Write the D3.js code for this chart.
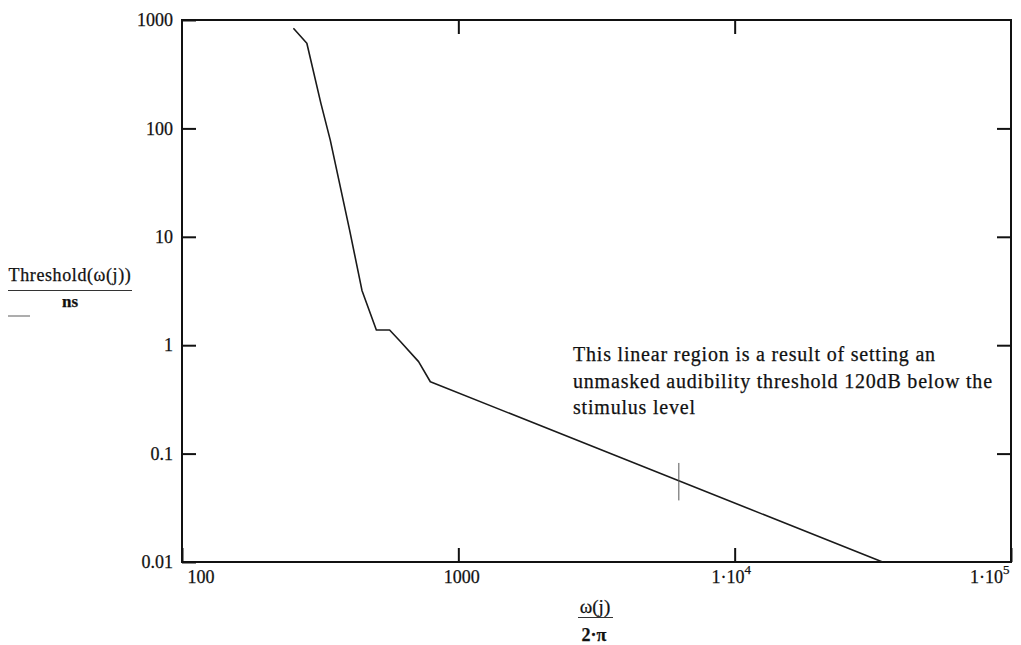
<!DOCTYPE html>
<html>
<head>
<meta charset="utf-8">
<script src="https://cdn.jsdelivr.net/npm/d3@7"></script>
<style>
  html, body { margin: 0; padding: 0; background: #fff; }
  svg { display: block; font-family: "Liberation Serif", "Times New Roman", serif; }
  svg text { stroke: #111; stroke-width: 0.25px; }
</style>
</head>
<body>
<svg id="chart" width="1021" height="645"></svg>
<script>
// ---- data ----
const freq   = [253, 283, 318, 344, 404, 448, 505, 564, 617, 718, 792, 34300];
const thresh = [838, 610, 171, 78, 11.6, 3.2, 1.38, 1.38, 1.08, 0.705, 0.46, 0.01];
const xTickValues = [100, 1000, 10000, 100000];
const xTickLabels = [["100", ""], ["1000", ""], ["1·10", "4"], ["1·10", "5"]];
const yTickValues = [0.01, 0.1, 1, 10, 100, 1000];
const yTickLabels = ["0.01", "0.1", "1", "10", "100", "1000"];
const markerX = [6280];
const markerY = [0.037, 0.082];
const noteLines = [
  "This linear region is a result of setting an",
  "unmasked audibility threshold 120dB below the",
  "stimulus level"
];

// ---- layout ----
const svg = d3.select("#chart");
const L = 182, R = 1011, T = 20, B = 562;
const x = d3.scaleLog().domain([100, 100000]).range([L, R]);
const y = d3.scaleLog().domain([0.01, 1000]).range([B, T]);
const tick = 14;

// frame
svg.append("rect").attr("x", L).attr("y", T).attr("width", R - L).attr("height", B - T)
  .attr("fill", "none").attr("stroke", "#111").attr("stroke-width", 2);

function styleAxis(g) {
  g.select(".domain").remove();
  g.selectAll(".tick line").attr("stroke", "#111").attr("stroke-width", 2);
}

// bottom axis (ticks pointing up)
const gB = svg.append("g").attr("transform", `translate(0,${B})`)
  .call(d3.axisBottom(x).tickValues(xTickValues).tickSizeInner(-tick).tickSizeOuter(0).tickFormat(() => ""))
  .call(styleAxis);
gB.selectAll(".tick text").remove();
const xOff = [{dx: 5, anchor: "start"}, {dx: 3, anchor: "middle"}, {dx: -4, anchor: "middle"}, {dx: -2, anchor: "end"}];
gB.selectAll(".tick").each(function(d, i) {
  const t = d3.select(this).append("text")
    .attr("x", xOff[i].dx).attr("y", 21)
    .attr("text-anchor", xOff[i].anchor)
    .attr("fill", "#111").attr("font-size", 18).attr("font-family", "Liberation Serif, serif");
  t.append("tspan").text(xTickLabels[i][0]);
  if (xTickLabels[i][1]) t.append("tspan").attr("dy", -9).attr("font-size", 13).text(xTickLabels[i][1]);
});

// top axis (ticks pointing down)
svg.append("g").attr("transform", `translate(0,${T})`)
  .call(d3.axisTop(x).tickValues([1000, 10000]).tickSizeInner(-tick).tickSizeOuter(0).tickFormat(() => ""))
  .call(styleAxis);

// left axis (ticks pointing right)
const gL = svg.append("g").attr("transform", `translate(${L},0)`)
  .call(d3.axisLeft(y).tickValues(yTickValues).tickSizeInner(-tick).tickSizeOuter(0)
    .tickFormat((d, i) => yTickLabels[i]))
  .call(styleAxis);
gL.selectAll(".tick text").attr("x", -9).attr("dy", "0.32em")
  .attr("fill", "#111").attr("font-size", 18).attr("font-family", "Liberation Serif, serif");

// right axis (ticks pointing left)
svg.append("g").attr("transform", `translate(${R},0)`)
  .call(d3.axisRight(y).tickValues(yTickValues.slice(1, -1)).tickSizeInner(-tick).tickSizeOuter(0).tickFormat(() => ""))
  .call(styleAxis);

// data line
const pts = freq.map((f, i) => [f, thresh[i]]);
svg.append("path").datum(pts)
  .attr("fill", "none").attr("stroke", "#1a1a1a").attr("stroke-width", 1.6)
  .attr("stroke-linejoin", "round")
  .attr("d", d3.line().x(d => x(d[0])).y(d => y(d[1])));

// cursor marker
svg.append("line")
  .attr("x1", x(markerX[0])).attr("x2", x(markerX[0]))
  .attr("y1", y(markerY[0])).attr("y2", y(markerY[1]))
  .attr("stroke", "#555").attr("stroke-width", 1);

// annotation
const note = svg.append("text").attr("x", 573).attr("y", 361).attr("fill", "#111")
  .attr("font-size", 20).attr("letter-spacing", 0.8);
noteLines.forEach((s, i) => note.append("tspan").attr("x", 573).attr("dy", i === 0 ? 0 : 26.5).text(s));

// y label (fraction)
svg.append("text").attr("x", 70).attr("y", 281).attr("text-anchor", "middle")
  .attr("fill", "#111").attr("font-size", 18).attr("letter-spacing", 0.6).text("Threshold(ω(j))");
svg.append("line").attr("x1", 8).attr("x2", 132).attr("y1", 290.5).attr("y2", 290.5)
  .attr("stroke", "#333").attr("stroke-width", 1.2);
svg.append("text").attr("x", 70).attr("y", 307).attr("text-anchor", "middle")
  .attr("fill", "#111").attr("font-size", 17).attr("font-weight", "bold").text("ns");
svg.append("line").attr("x1", 8).attr("x2", 30).attr("y1", 316).attr("y2", 316)
  .attr("stroke", "#777").attr("stroke-width", 1.2);

// x label (fraction)
svg.append("text").attr("x", 595).attr("y", 613).attr("text-anchor", "middle")
  .attr("fill", "#111").attr("font-size", 19).text("ω(j)");
svg.append("line").attr("x1", 578).attr("x2", 613).attr("y1", 617.5).attr("y2", 617.5)
  .attr("stroke", "#333").attr("stroke-width", 1.2);
svg.append("text").attr("x", 594).attr("y", 641).attr("text-anchor", "middle")
  .attr("fill", "#111").attr("font-size", 18).attr("font-weight", "bold").text("2·π");
</script>
</body>
</html>
